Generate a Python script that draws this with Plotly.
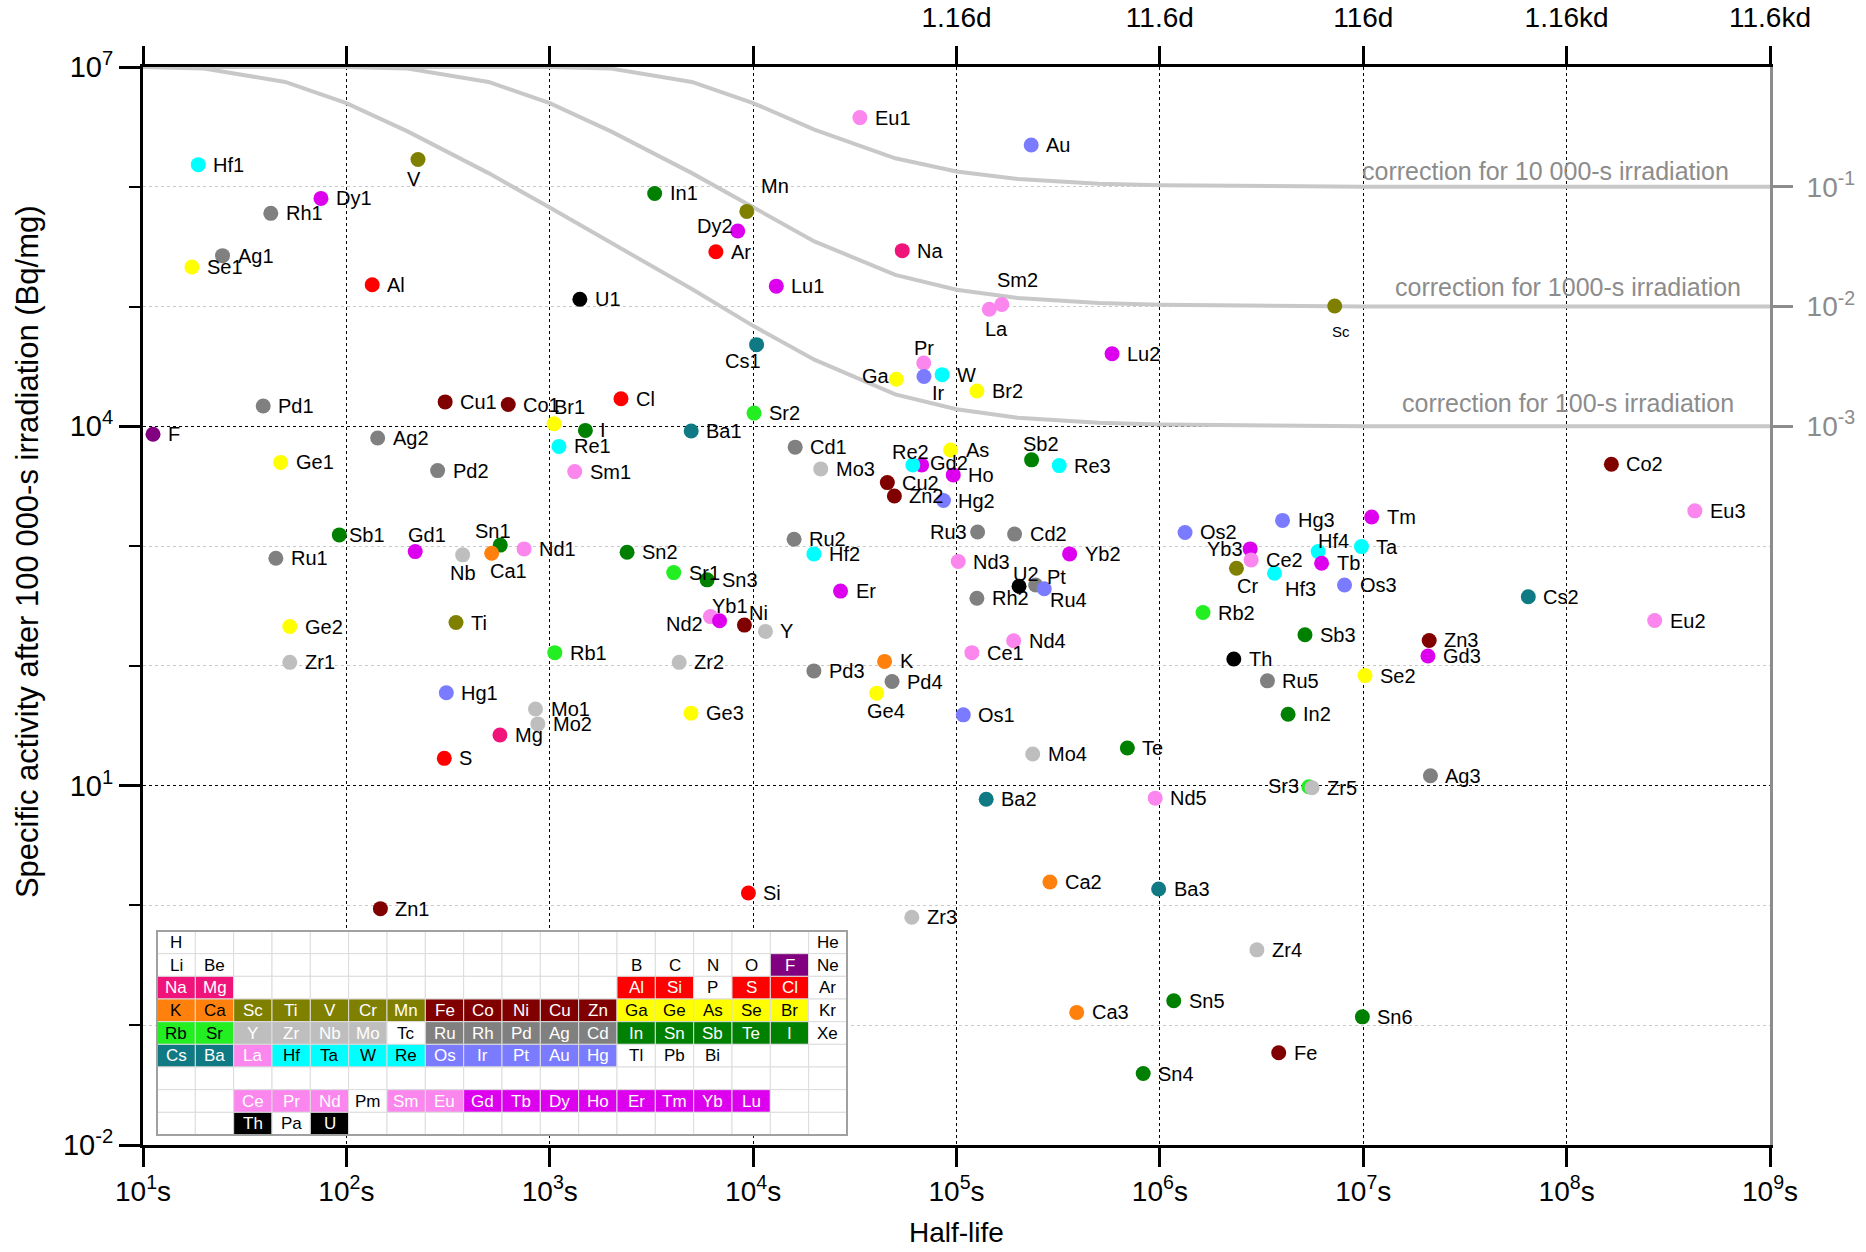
import math
import re
import plotly.graph_objects as go

# ---------------- data ----------------
labels = ["Hf1", "V", "Dy1", "Rh1", "Ag1", "Se1", "Al", "U1", "Eu1", "Au",
          "In1", "Mn", "Dy2", "Ar", "Na", "Lu1", "La", "Sm2", "Sc", "Cs1",
          "Lu2", "Pr", "Ga", "Ir", "W", "Br2", "Pd1", "Cu1", "Co1", "Cl",
          "Sr2", "Br1", "I", "F", "Ag2", "Ba1", "Re1", "Ge1", "Pd2", "Sm1",
          "Cd1", "Mo3", "Gd2", "Re2", "As", "Ho", "Cu2", "Zn2", "Hg2", "Sb2",
          "Re3", "Co2", "Sb1", "Gd1", "Sn1", "Nd1", "Ru1", "Nb", "Ca1", "Sn2",
          "Sr1", "Sn3", "Ru2", "Hf2", "Ru3", "Cd2", "Nd3", "Yb2", "U2", "Ru4",
          "Pt", "Rh2", "Er", "Os2", "Yb3", "Ce2", "Cr", "Hf4", "Hf3", "Tb",
          "Ta", "Tm", "Hg3", "Os3", "Eu3", "Cs2", "Rb2", "Eu2", "Ti", "Ge2",
          "Nd2", "Yb1", "Ni", "Y", "Rb1", "Zr1", "Zr2", "Ce1", "Nd4", "Sb3",
          "Zn3", "Gd3", "Th", "K", "Pd3", "Pd4", "Ge4", "Hg1", "Mo1", "Mo2",
          "Ge3", "Os1", "Mg", "S", "Te", "Mo4", "Ru5", "In2", "Se2", "Sr3",
          "Zr5", "Ag3", "Ba2", "Nd5", "Zn1", "Si", "Ca2", "Ba3", "Zr3", "Zr4",
          "Sn5", "Ca3", "Sn6", "Fe", "Sn4"]

half_life_s = [18.7, 225, 75, 42.5, 24.6, 17.4, 134, 1406, 3.35e4, 2.33e5,
               3280, 9310, 8400, 6560, 5.41e4, 1.30e4, 1.45e5, 1.67e5, 7.24e6, 1.04e4,
               5.82e5, 6.9e4, 5.06e4, 6.92e4, 8.5e4, 1.26e5, 39, 306, 625, 2240,
               1.01e4, 1050, 1497, 11.2, 142.5, 4960, 1110, 47.5, 281, 1327,
               1.61e4, 2.15e4, 6.74e4, 6.1e4, 9.35e4, 9.64e4, 4.57e4, 4.95e4, 8.63e4, 2.34e5,
               3.2e5, 1.66e8, 92.3, 218, 571, 748, 45, 373, 518, 2400,
               4070, 5940, 1.59e4, 1.99e4, 1.27e5, 1.93e5, 1.02e5, 3.6e5, 2.03e5, 2.45e5,
               2.7e5, 1.26e5, 2.69e4, 1.33e6, 2.78e6, 2.81e6, 2.38e6, 6.0e6, 3.66e6, 6.24e6,
               9.8e6, 1.1e7, 4.01e6, 8.09e6, 4.27e8, 6.48e7, 1.63e6, 2.71e8, 346, 52.7,
               6170, 6840, 9060, 1.15e4, 1059, 52.7, 4330, 1.19e5, 1.91e5, 5.17e6,
               2.11e7, 2.08e7, 2.31e6, 4.43e4, 1.99e4, 4.82e4, 4.05e4, 310, 851, 874,
               4950, 1.08e5, 569, 303, 6.92e5, 2.37e5, 3.38e6, 4.27e6, 1.02e7, 5.4e6,
               5.6e6, 2.14e7, 1.4e5, 9.48e5, 147, 9480, 2.88e5, 9.86e5, 6.03e4, 3.0e6,
               1.17e6, 3.9e5, 9.9e6, 3.84e6, 8.28e5]

activity_bq_mg = [1.53e6, 1.69e6, 8.0e5, 6.0e5, 2.66e5, 2.14e5, 1.52e5, 1.15e5, 3.78e6, 2.23e6,
                  8.8e5, 6.23e5, 4.27e5, 2.87e5, 2.93e5, 1.48e5, 9.5e4, 1.04e5, 1.01e5, 4.81e4,
                  4.04e4, 3.38e4, 2.47e4, 2.61e4, 2.7e4, 1.97e4, 1.48e4, 1.6e4, 1.52e4, 1.70e4,
                  1.29e4, 1.05e4, 9.25e3, 8.6e3, 8.0e3, 9.14e3, 6.8e3, 5.0e3, 4.27e3, 4.19e3,
                  6.7e3, 4.41e3, 4.76e3, 4.76e3, 6.35e3, 3.93e3, 3.39e3, 2.62e3, 2.4e3, 5.25e3,
                  4.7e3, 4.83e3, 1.24e3, 900, 1.02e3, 948, 793, 845, 873, 889,
                  601, 523, 1.14e3, 861, 1.31e3, 1.26e3, 743, 861, 462, 474,
                  440, 367, 421, 1.3e3, 948, 767, 653, 900, 594, 719,
                  991, 1.75e3, 1.64e3, 474, 1.97e3, 378, 279, 239, 230, 213,
                  258, 238, 219, 194, 129, 107, 107, 129, 162, 182,
                  163, 121, 114, 109, 90.8, 74, 59.2, 59.6, 43.7, 32.8,
                  40.3, 39, 26.5, 16.9, 20.6, 18.4, 75, 39.5, 83, 9.8,
                  9.6, 12.1, 7.71, 7.87, 0.94, 1.27, 1.57, 1.37, 0.798, 0.426,
                  0.16, 0.128, 0.1175, 0.0589, 0.0395]

# irradiation-time correction curves
curve_halflife_s = [1e1, 2e1, 5e1, 1e2, 2e2, 5e2, 1e3, 2e3, 5e3, 1e4, 2e4, 5e4, 1e5,
                    2e5, 5e5, 1e6, 2e6, 5e6, 1e7, 2e7, 5e7, 1e8, 2e8, 5e8, 1e9]
corr_100s = [1.0e7, 9.7e6, 7.5e6, 5.0e6, 2.9e6, 1.3e6, 6.7e5, 3.4e5, 1.4e5, 6.9e4, 3.6e4,
             1.85e4, 1.39e4, 1.18e4, 1.07e4, 1.035e4, 1.02e4, 1.01e4, 1.0e4, 1.0e4,
             1.0e4, 1.0e4, 1.0e4, 1.0e4, 1.0e4]
corr_1000s = [1.0e7, 1.0e7, 1.0e7, 1.0e7, 9.7e6, 7.5e6, 5.0e6, 2.9e6, 1.3e6, 6.7e5, 3.5e5,
              1.84e5, 1.38e5, 1.18e5, 1.07e5, 1.035e5, 1.02e5, 1.01e5, 1.0e5, 1.0e5,
              1.0e5, 1.0e5, 1.0e5, 1.0e5, 1.0e5]
corr_10000s = [1.0e7, 1.0e7, 1.0e7, 1.0e7, 1.0e7, 1.0e7, 1.0e7, 9.7e6, 7.5e6, 5.0e6, 3.0e6,
               1.73e6, 1.34e6, 1.16e6, 1.06e6, 1.03e6, 1.016e6, 1.006e6, 1.0e6, 1.0e6,
               1.0e6, 1.0e6, 1.0e6, 1.0e6, 1.0e6]
correction_texts = ["correction for 10 000-s irradiation",
                    "correction for 1000-s irradiation",
                    "correction for 100-s irradiation"]

x_tick_vals = [1e1, 1e2, 1e3, 1e4, 1e5, 1e6, 1e7, 1e8, 1e9]
x_tick_text = ["10<sup>%d</sup>s" % k for k in range(1, 10)]
top_tick_text = ["", "", "", "", "1.16d", "11.6d", "116d", "1.16kd", "11.6kd"]
y_major_vals = [1e-2, 1e1, 1e4, 1e7]
y_major_text = ["10<sup>-2</sup>", "10<sup>1</sup>", "10<sup>4</sup>", "10<sup>7</sup>"]
y_minor_vals = [1e-1, 1e0, 1e2, 1e3, 1e5, 1e6]
right_tick_vals = [1e-3, 1e-2, 1e-1]
right_tick_text = ["10<sup>-3</sup>", "10<sup>-2</sup>", "10<sup>-1</sup>"]

ptable_rows = [
    ["H", "", "", "", "", "", "", "", "", "", "", "", "", "", "", "", "", "He"],
    ["Li", "Be", "", "", "", "", "", "", "", "", "", "", "B", "C", "N", "O", "F", "Ne"],
    ["Na", "Mg", "", "", "", "", "", "", "", "", "", "", "Al", "Si", "P", "S", "Cl", "Ar"],
    ["K", "Ca", "Sc", "Ti", "V", "Cr", "Mn", "Fe", "Co", "Ni", "Cu", "Zn", "Ga", "Ge", "As", "Se", "Br", "Kr"],
    ["Rb", "Sr", "Y", "Zr", "Nb", "Mo", "Tc", "Ru", "Rh", "Pd", "Ag", "Cd", "In", "Sn", "Sb", "Te", "I", "Xe"],
    ["Cs", "Ba", "La", "Hf", "Ta", "W", "Re", "Os", "Ir", "Pt", "Au", "Hg", "Tl", "Pb", "Bi", "", "", ""],
    ["", "", "", "", "", "", "", "", "", "", "", "", "", "", "", "", "", ""],
    ["", "", "Ce", "Pr", "Nd", "Pm", "Sm", "Eu", "Gd", "Tb", "Dy", "Ho", "Er", "Tm", "Yb", "Lu", "", ""],
    ["", "", "Th", "Pa", "U", "", "", "", "", "", "", "", "", "", "", "", "", ""],
]

# ---------------- styles ----------------
groups = [
    (["Na", "Mg"], "#F0147A", "white"),
    (["K", "Ca"], "#FF800D", "black"),
    (["Rb", "Sr"], "#22EE22", "black"),
    (["Cs", "Ba"], "#0F7A84", "white"),
    (["Sc", "Ti", "V", "Cr", "Mn"], "#808000", "white"),
    (["Fe", "Co", "Ni", "Cu", "Zn"], "#800000", "white"),
    (["Y", "Zr", "Nb", "Mo"], "#BEBEBE", "white"),
    (["Ru", "Rh", "Pd", "Ag", "Cd"], "#808080", "white"),
    (["Hf", "Ta", "W", "Re"], "#00FFFF", "black"),
    (["Os", "Ir", "Pt", "Au", "Hg"], "#7B7BFF", "white"),
    (["Ga", "Ge", "As", "Se", "Br"], "#FFFF00", "black"),
    (["In", "Sn", "Sb", "Te", "I"], "#008000", "white"),
    (["Al", "Si", "S", "Cl"], "#FF0000", "white"),
    (["F"], "#800080", "white"),
    (["La", "Ce", "Pr", "Nd", "Sm", "Eu"], "#FA86EE", "white"),
    (["Gd", "Tb", "Dy", "Ho", "Er", "Tm", "Yb", "Lu"], "#DD00EE", "white"),
    (["Th", "U"], "#000000", "white"),
]
cell_style = {}
for syms, fill, tcol in groups:
    for s in syms:
        cell_style[s] = (fill, tcol)
marker_color_extra = {"Ar": "#FF0000"}

FONT = "Arial, Liberation Sans, sans-serif"
W, H = 1866, 1252
ML, MR, MT, MB = 143, 96, 67, 107

# label placement: (xanchor, xshift px, yshift px)
DEFAULT_LABEL = ("left", 13, 0)
label_place = {
    "V": ("center", -4, -20), "Mn": ("center", 28, 25), "Dy2": ("right", -3, 5),
    "Sm2": ("center", 16, 25), "La": ("center", 7, -20), "Cs1": ("center", -14, -16),
    "Pr": ("center", 0, 15), "Ga": ("right", -4, 3), "Ir": ("center", 15, -17),
    "Br1": ("left", -2, 17), "Re2": ("center", -2, 13), "Gd2": ("left", 6, 2),
    "Sb2": ("center", 9, 16), "Ru3": ("right", -9, 0), "Yb1": ("center", 10, 15),
    "Nd2": ("right", -5, -7), "Ni": ("center", 14, 12), "U2": ("center", 7, 12),
    "Pt": ("left", 1, 12), "Ru4": ("left", 12, -15), "Ge4": ("center", 9, -18),
    "Nb": ("center", 0, -18), "Ca1": ("center", 17, -18), "Sn1": ("center", -7, 14),
    "Gd1": ("center", 12, 17), "Sb1": ("left", 8, 0), "Yb3": ("right", -5, 0),
    "Cr": ("center", 11, -18), "Hf3": ("center", 26, -16), "Hf4": ("center", 15, 11),
    "Sr3": ("right", -8, 1), "Sc": ("center", 6, -25),
}


def element_of(lbl):
    return re.sub(r"\d+$", "", lbl)


marker_colors = []
for lb in labels:
    el = element_of(lb)
    marker_colors.append(marker_color_extra.get(el, cell_style.get(el, ("#000000", ""))[0]))

fig = go.Figure()

# correction curves
for ys in (corr_10000s, corr_1000s, corr_100s):
    fig.add_trace(go.Scatter(x=curve_halflife_s, y=ys, mode="lines",
                             line=dict(color="#C8C8C8", width=4),
                             hoverinfo="skip", showlegend=False))

# data points
fig.add_trace(go.Scatter(x=half_life_s, y=activity_bq_mg, mode="markers",
                         marker=dict(size=15, color=marker_colors, line=dict(width=0)),
                         text=labels, hoverinfo="text", showlegend=False))

# helper traces so that the top and right axes are drawn
fig.add_trace(go.Scatter(x=[1e5], y=[1e3], xaxis="x2", yaxis="y", mode="markers",
                         marker=dict(opacity=0), hoverinfo="skip", showlegend=False))
fig.add_trace(go.Scatter(x=[1e5], y=[1e-4], xaxis="x", yaxis="y2", mode="markers",
                         marker=dict(opacity=0), hoverinfo="skip", showlegend=False))

pw, ph = W - ML - MR, H - MT - MB


def pxx(px):
    return (px - ML) / pw


def pxy(py):
    return (H - MB - py) / ph


annotations = []
for lb, t, a in zip(labels, half_life_s, activity_bq_mg):
    xa, xs, ys = label_place.get(lb, DEFAULT_LABEL)
    annotations.append(dict(x=math.log10(t), y=math.log10(a), xref="x", yref="y",
                            text=lb, showarrow=False, xanchor=xa, yanchor="middle",
                            xshift=xs, yshift=ys,
                            font=dict(family=FONT, size=15 if lb == "Sc" else 20, color="black")))

# correction labels
for txt, level, xr, ysh in zip(correction_texts, [1e6, 1e5, 1e4], [8.807, 8.866, 8.832], [16, 20, 23]):
    annotations.append(dict(x=xr, y=math.log10(level), xref="x", yref="y", text=txt,
                            showarrow=False, xanchor="right", yanchor="middle", yshift=ysh,
                            font=dict(family=FONT, size=25, color="#8C8C8C")))

# axis titles
annotations.append(dict(x=0.5, y=pxy(1232), xref="paper", yref="paper",
                        text="Half-life", showarrow=False, xanchor="center", yanchor="middle",
                        font=dict(family=FONT, size=28, color="black")))
annotations.append(dict(x=pxx(27), y=0.55, xref="paper", yref="paper",
                        text="Specific activity after 100 000-s irradiation (Bq/mg)",
                        showarrow=False, textangle=-90, xanchor="center", yanchor="middle",
                        font=dict(family=FONT, size=31, color="black")))

# periodic table inset
TX0, TX1, TY0, TY1 = 157, 847, 931, 1135
ncol, nrow = 18, len(ptable_rows)
cw, rh = (TX1 - TX0) / ncol, (TY1 - TY0) / nrow
shapes = []
for r, row in enumerate(ptable_rows):
    for c, sym in enumerate(row):
        fill, tcol = cell_style.get(sym, ("white", "black"))
        x0, x1 = TX0 + c * cw, TX0 + (c + 1) * cw
        y0, y1 = TY0 + r * rh, TY0 + (r + 1) * rh
        shapes.append(dict(type="rect", xref="paper", yref="paper",
                           x0=pxx(x0), x1=pxx(x1), y0=pxy(y1), y1=pxy(y0),
                           fillcolor=fill, line=dict(color="#DCDCDC", width=1), layer="above"))
        if sym:
            annotations.append(dict(x=pxx((x0 + x1) / 2), y=pxy((y0 + y1) / 2),
                                    xref="paper", yref="paper", text=sym, showarrow=False,
                                    xanchor="center", yanchor="middle",
                                    font=dict(family=FONT, size=17, color=tcol)))
shapes.append(dict(type="rect", xref="paper", yref="paper",
                   x0=pxx(TX0), x1=pxx(TX1), y0=pxy(TY1), y1=pxy(TY0),
                   fillcolor="rgba(0,0,0,0)", line=dict(color="#A0A0A0", width=2), layer="above"))

tickfont = dict(family=FONT, size=28, color="black")
fig.update_layout(
    width=W, height=H,
    margin=dict(l=ML, r=MR, t=MT, b=MB, pad=0, autoexpand=False),
    paper_bgcolor="white", plot_bgcolor="white",
    font=dict(family=FONT),
    showlegend=False,
    xaxis=dict(type="log", range=[1, 9], tickmode="array", tickvals=x_tick_vals,
               ticktext=x_tick_text, tickfont=tickfont, ticks="outside", ticklen=19,
               tickwidth=3, tickcolor="black", showline=True, linewidth=3, linecolor="black",
               showgrid=True, gridcolor="black", griddash="dot", gridwidth=1,
               zeroline=False, ticklabelstandoff=0, automargin=False),
    xaxis2=dict(type="log", range=[1, 9], overlaying="x", side="top", tickmode="array",
                tickvals=x_tick_vals, ticktext=top_tick_text, tickfont=tickfont,
                ticks="outside", ticklen=18, tickwidth=3, tickcolor="black",
                showline=True, linewidth=3, linecolor="black", showgrid=False,
                zeroline=False, ticklabelstandoff=8, automargin=False),
    yaxis=dict(type="log", range=[-2, 7], tickmode="array", tickvals=y_major_vals,
               ticktext=y_major_text, tickfont=dict(family=FONT, size=29, color="black"),
               ticks="outside", ticklen=21,
               tickwidth=3, tickcolor="black", showline=True, linewidth=3, linecolor="black",
               showgrid=True, gridcolor="black", griddash="dot", gridwidth=1, zeroline=False,
               ticklabelstandoff=0, automargin=False,
               minor=dict(tickmode="array", tickvals=y_minor_vals, ticks="outside", ticklen=11,
                          tickwidth=2, tickcolor="black", showgrid=True, gridcolor="#C8C8C8",
                          griddash="dot", gridwidth=1)),
    yaxis2=dict(type="log", range=[-9, 0], overlaying="y", side="right", tickmode="array",
                tickvals=right_tick_vals, ticktext=right_tick_text,
                tickfont=dict(family=FONT, size=28, color="#8C8C8C"), ticks="outside",
                ticklen=20, tickwidth=3, tickcolor="#8C8C8C", showline=True, linewidth=3,
                linecolor="#8C8C8C", showgrid=False, zeroline=False, ticklabelstandoff=8,
                automargin=False),
    annotations=annotations,
    shapes=shapes,
)

fig.write_html("out.html", config={"displayModeBar": False},
               post_script="document.body.style.margin='0';document.body.style.overflow='hidden';")
